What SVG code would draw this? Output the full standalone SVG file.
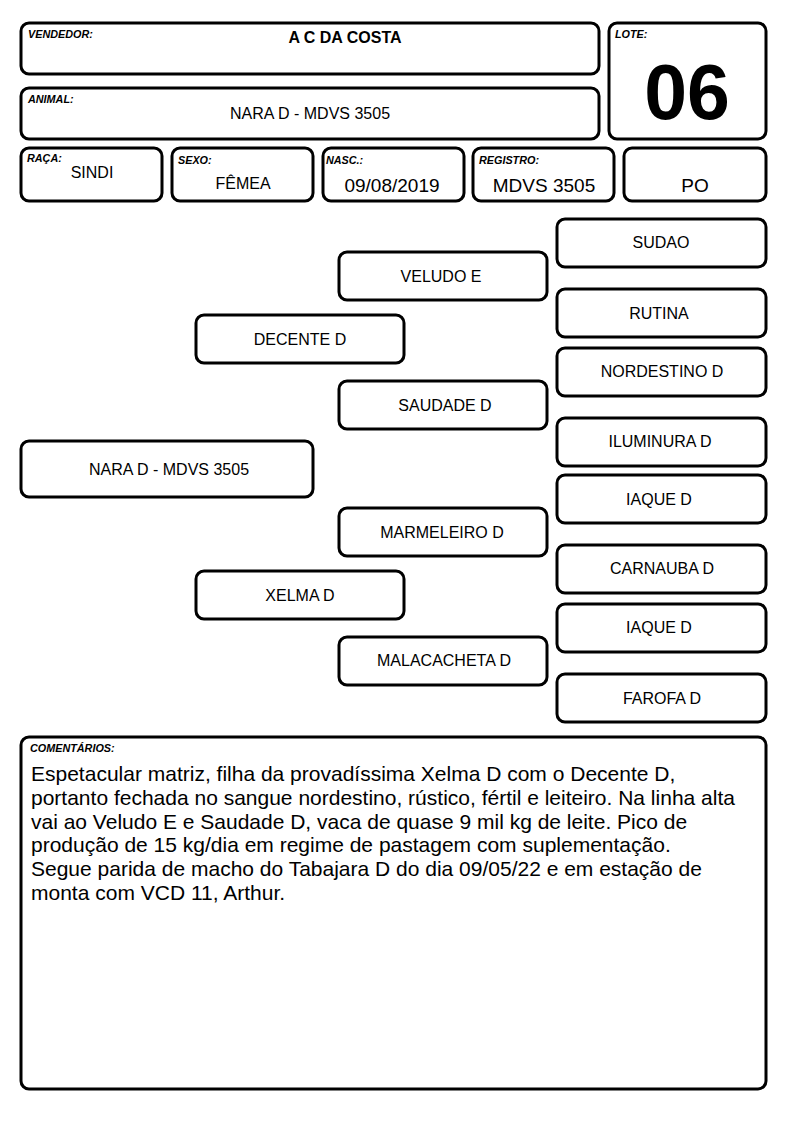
<svg xmlns="http://www.w3.org/2000/svg" width="794" height="1123" viewBox="0 0 794 1123">
<style>
.b{fill:#fff;stroke:#000;stroke-width:3}
.l{font-family:"Liberation Sans",Arial,sans-serif;font-size:10.8px;font-weight:bold;font-style:italic;fill:#000}
.t{font-family:"Liberation Sans",Arial,sans-serif;font-size:16px;fill:#000;text-anchor:middle}
.v{font-family:"Liberation Sans",Arial,sans-serif;font-size:19px;fill:#000;text-anchor:middle}
.c{font-family:"Liberation Sans",Arial,sans-serif;font-size:21px;fill:#000}
</style>
<rect width="794" height="1123" fill="#fff"/>
<g id="vendedor"><rect class="b" x="21" y="23" width="578" height="51" rx="8"/><text class="l" x="28" y="38">VENDEDOR:</text><text x="345" y="43" font-family="Liberation Sans,Arial,sans-serif" font-size="16" font-weight="bold" text-anchor="middle">A C DA COSTA</text></g>
<g id="animal"><rect class="b" x="21" y="88" width="578" height="51" rx="8"/><text class="l" x="28" y="103">ANIMAL:</text><text class="t" x="310" y="119">NARA D - MDVS 3505</text></g>
<g id="lote"><rect class="b" x="609" y="23" width="157" height="116" rx="8"/><text class="l" x="615" y="38">LOTE:</text><text x="687" y="119" font-family="Liberation Sans,Arial,sans-serif" font-size="77" font-weight="bold" text-anchor="middle">06</text></g>
<g id="raca"><rect class="b" x="21" y="148" width="141" height="53" rx="8"/><text class="l" x="27" y="162">RAÇA:</text><text class="t" x="92" y="178" font-size="14">SINDI</text></g>
<g id="sexo"><rect class="b" x="172" y="148" width="141" height="53" rx="8"/><text class="l" x="178" y="164">SEXO:</text><text class="t" x="243" y="189" font-size="14">FÊMEA</text></g>
<g id="nasc"><rect class="b" x="323" y="148" width="141" height="53" rx="8"/><text class="l" x="326" y="164">NASC.:</text><text class="v" x="392" y="192">09/08/2019</text></g>
<g id="registro"><rect class="b" x="473" y="148" width="141" height="53" rx="8"/><text class="l" x="479" y="164">REGISTRO:</text><text class="v" x="544" y="192">MDVS 3505</text></g>
<g id="po"><rect class="b" x="624" y="148" width="142" height="53" rx="8"/><text class="v" x="695" y="192">PO</text></g>
<g id="nara"><rect class="b" x="21" y="441" width="292" height="56" rx="8"/><text class="t" x="169" y="475">NARA D - MDVS 3505</text></g>
<g id="decente"><rect class="b" x="196" y="315" width="208" height="48" rx="8"/><text class="t" x="300" y="345">DECENTE D</text></g>
<g id="xelma"><rect class="b" x="196" y="571" width="208" height="48" rx="8"/><text class="t" x="300" y="601">XELMA D</text></g>
<g id="veludo"><rect class="b" x="339" y="252" width="208" height="48" rx="8"/><text class="t" x="441" y="282">VELUDO E</text></g>
<g id="saudade"><rect class="b" x="339" y="381" width="208" height="48" rx="8"/><text class="t" x="445" y="411">SAUDADE D</text></g>
<g id="marmeleiro"><rect class="b" x="339" y="508" width="208" height="48" rx="8"/><text class="t" x="442" y="538">MARMELEIRO D</text></g>
<g id="malacacheta"><rect class="b" x="339" y="637" width="208" height="48" rx="8"/><text class="t" x="444" y="666">MALACACHETA D</text></g>
<g id="sudao"><rect class="b" x="557" y="219" width="209" height="48" rx="8"/><text class="t" x="661" y="248">SUDAO</text></g>
<g id="rutina"><rect class="b" x="557" y="289" width="209" height="48" rx="8"/><text class="t" x="659" y="319">RUTINA</text></g>
<g id="nordestino"><rect class="b" x="557" y="348" width="209" height="48" rx="8"/><text class="t" x="662" y="377">NORDESTINO D</text></g>
<g id="iluminura"><rect class="b" x="557" y="418" width="209" height="48" rx="8"/><text class="t" x="660" y="447">ILUMINURA D</text></g>
<g id="iaque1"><rect class="b" x="557" y="475" width="209" height="48" rx="8"/><text class="t" x="659" y="505">IAQUE D</text></g>
<g id="carnauba"><rect class="b" x="557" y="545" width="209" height="48" rx="8"/><text class="t" x="662" y="574">CARNAUBA D</text></g>
<g id="iaque2"><rect class="b" x="557" y="604" width="209" height="48" rx="8"/><text class="t" x="659" y="633">IAQUE D</text></g>
<g id="farofa"><rect class="b" x="557" y="674" width="209" height="48" rx="8"/><text class="t" x="662" y="704">FAROFA D</text></g>
<g id="connectors"></g>
<g id="comentarios"><rect class="b" x="21" y="737" width="745" height="352" rx="8"/><text class="l" x="30" y="752">COMENTÁRIOS:</text>
<text class="c" x="31" y="781">Espetacular matriz, filha da provadíssima Xelma D com o Decente D,</text>
<text class="c" x="31" y="805">portanto fechada no sangue nordestino, rústico, fértil e leiteiro. Na linha alta</text>
<text class="c" x="31" y="829">vai ao Veludo E e Saudade D, vaca de quase 9 mil kg de leite. Pico de</text>
<text class="c" x="31" y="852">produção de 15 kg/dia em regime de pastagem com suplementação.</text>
<text class="c" x="31" y="876">Segue parida de macho do Tabajara D do dia 09/05/22 e em estação de</text>
<text class="c" x="31" y="900">monta com VCD 11, Arthur.</text>
</g>
</svg>
